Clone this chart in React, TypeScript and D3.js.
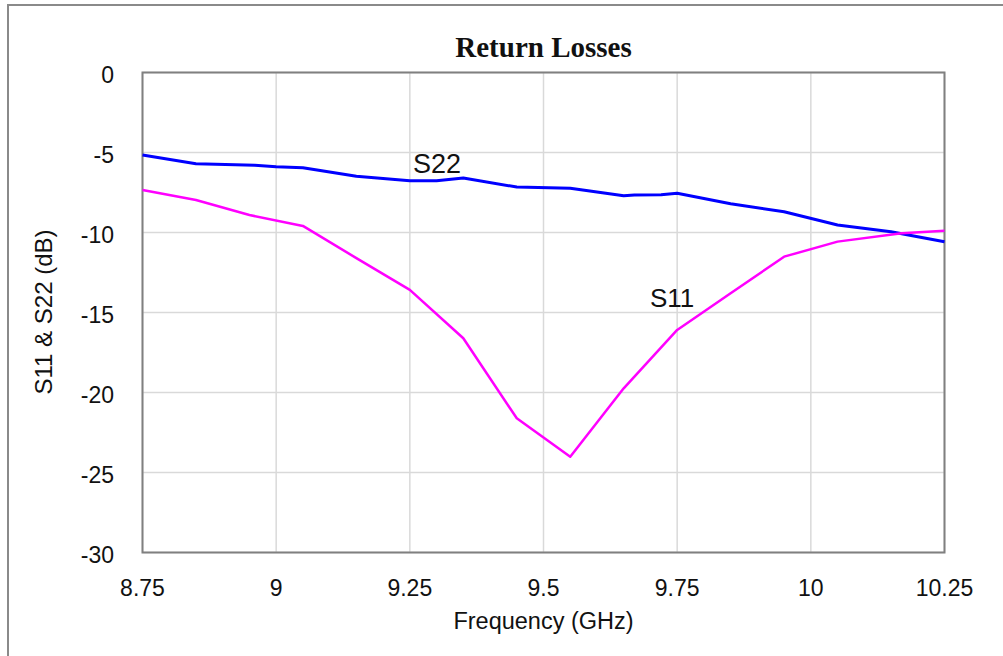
import React from "react";
import * as d3 from "d3";

const freqS22 = [8.75, 8.85, 8.96, 9.0, 9.05, 9.15, 9.25, 9.3, 9.35, 9.45, 9.55, 9.65, 9.67, 9.72, 9.75, 9.85, 9.95, 10.05, 10.15, 10.25];
const s22 = [-5.16, -5.7, -5.8, -5.89, -5.95, -6.49, -6.76, -6.76, -6.59, -7.16, -7.24, -7.7, -7.66, -7.64, -7.55, -8.2, -8.7, -9.53, -9.95, -10.58];

const freqS11 = [8.75, 8.85, 8.95, 9.05, 9.15, 9.25, 9.35, 9.45, 9.55, 9.65, 9.75, 9.85, 9.95, 10.05, 10.17, 10.25];
const s11 = [-7.34, -7.97, -8.91, -9.59, -11.6, -13.59, -16.61, -21.61, -24.01, -19.74, -16.09, -13.8, -11.51, -10.57, -10.05, -9.89];

const xTicks = [8.75, 9, 9.25, 9.5, 9.75, 10, 10.25];
const xTickLabels = ["8.75", "9", "9.25", "9.5", "9.75", "10", "10.25"];
const yTicks = [0, -5, -10, -15, -20, -25, -30];

const W = 1003;
const H = 656;
const L = 142.5, R = 944.5, T = 72.5, B = 552.5;

export default function App() {
  const x = d3.scaleLinear().domain([8.75, 10.25]).range([L, R]);
  const y = d3.scaleLinear().domain([0, -30]).range([T, B]);
  const line = d3.line<[number, number]>().x((d) => x(d[0])).y((d) => y(d[1]));
  const d22 = line(freqS22.map((f, i) => [f, s22[i]]) as [number, number][]) || "";
  const d11 = line(freqS11.map((f, i) => [f, s11[i]]) as [number, number][]) || "";
  const sans = "'Liberation Sans', Arial, sans-serif";
  return (
    <svg width={W} height={H} style={{ position: "absolute", left: 0, top: 0, background: "#fff" }}>
      <rect x={0} y={0} width={W} height={H} fill="#fff" />
      <rect x={8} y={5} width={W + 20} height={H + 20} fill="none" stroke="#8a8a8a" strokeWidth={2} />
      {xTicks.map((t) => (
        <line key={"gx" + t} x1={x(t)} x2={x(t)} y1={T} y2={B} stroke="#d9d9d9" strokeWidth={1.5} />
      ))}
      {yTicks.map((t) => (
        <line key={"gy" + t} x1={L} x2={R} y1={y(t)} y2={y(t)} stroke="#d9d9d9" strokeWidth={1.5} />
      ))}
      <rect x={L} y={T} width={R - L} height={B - T} fill="none" stroke="#808080" strokeWidth={2} />
      <path d={d22} fill="none" stroke="#0000ff" strokeWidth={3} strokeLinejoin="round" />
      <path d={d11} fill="none" stroke="#ff00ff" strokeWidth={2.5} strokeLinejoin="round" />
      {xTicks.map((t, i) => (
        <text key={"tx" + t} x={x(t)} y={596} textAnchor="middle" fontFamily={sans} fontSize={23} fill="#111">
          {xTickLabels[i]}
        </text>
      ))}
      {yTicks.map((t) => (
        <text key={"ty" + t} x={114} y={y(t) + 10} textAnchor="end" fontFamily={sans} fontSize={23} fill="#111">
          {String(t)}
        </text>
      ))}
      <text x={(L + R) / 2} y={57} textAnchor="middle" fontFamily="'Liberation Serif', 'Times New Roman', serif" fontWeight="bold" fontSize={29} fill="#111">
        Return Losses
      </text>
      <text x={(L + R) / 2} y={629} textAnchor="middle" fontFamily={sans} fontSize={23.5} fill="#111">
        Frequency (GHz)
      </text>
      <text transform={`translate(52, 312) rotate(-90)`} textAnchor="middle" fontFamily={sans} fontSize={24} fill="#111">
        S11 &amp; S22 (dB)
      </text>
      <text x={413} y={172.5} fontFamily={sans} fontSize={27} fill="#111">S22</text>
      <text x={650} y={307} fontFamily={sans} fontSize={26} fill="#111">S11</text>
    </svg>
  );
}
